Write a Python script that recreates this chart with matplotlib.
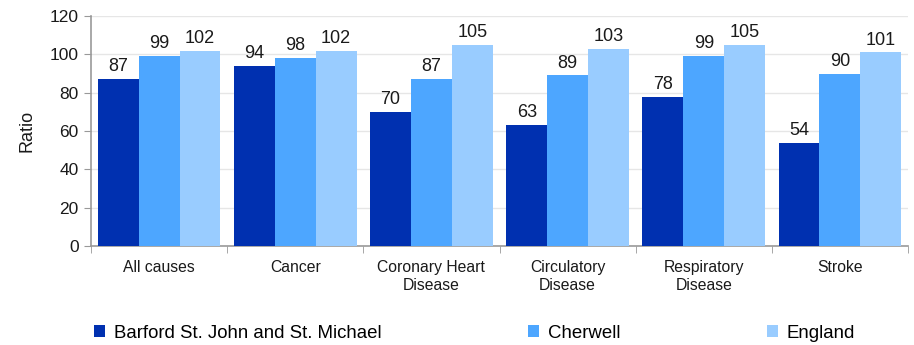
import numpy as np
import matplotlib
matplotlib.use('Agg')
import matplotlib.pyplot as plt

plt.rcParams['font.family'] = ['Liberation Sans', 'DejaVu Sans']

categories = ['All causes', 'Cancer', 'Coronary Heart\nDisease', 'Circulatory\nDisease',
              'Respiratory\nDisease', 'Stroke']
series_names = ['Barford St. John and St. Michael', 'Cherwell', 'England']
barford = [87, 94, 70, 63, 78, 54]
cherwell = [99, 98, 87, 89, 99, 90]
england = [102, 102, 105, 103, 105, 101]
colors = ['#0030B0', '#4DA6FF', '#99CCFF']

fig = plt.figure(figsize=(9.14, 3.45), dpi=100)
# axes box: left spine at x~91px, bottom at y~246px, top at y~16px
ax = fig.add_axes([91 / 914, 1 - 246 / 345, 817 / 914, 230 / 345])

x = np.arange(len(categories))
w = 0.3
for i, (vals, name, c) in enumerate(zip([barford, cherwell, england], series_names, colors)):
    bars = ax.bar(x + (i - 1) * w, vals, width=w, color=c, label=name, zorder=3)
    for b, v in zip(bars, vals):
        ax.text(b.get_x() + b.get_width() / 2, v + 2, str(v), ha='center', va='bottom',
                fontsize=13, color='#1a1a1a', zorder=4)

ax.set_xlim(-0.5, len(categories) - 0.5)
ax.set_ylim(0, 120)
ax.set_yticks(range(0, 121, 20))
ax.tick_params(axis='y', labelsize=12.5, length=5, color='#999999', pad=4, labelcolor='#1a1a1a')
ax.set_xticks(x)
ax.set_xticklabels(categories, fontsize=11.3, color='#1a1a1a', linespacing=1.25)
ax.tick_params(axis='x', length=0, pad=10)
ax.set_xticks(np.arange(-0.5, len(categories), 1), minor=True)
ax.tick_params(axis='x', which='minor', length=5, color='#999999')
ax.yaxis.grid(True, color='#e6e6e6', linewidth=1, zorder=0)
ax.set_ylabel('Ratio', fontsize=13, labelpad=10, color='#1a1a1a')

for s in ['top', 'right']:
    ax.spines[s].set_visible(False)
for s in ['left', 'bottom']:
    ax.spines[s].set_color('#999999')
    ax.spines[s].set_linewidth(1.2)

fig.legend(loc='center left', bbox_to_anchor=(94 / 914, 1 - 333 / 345), ncol=3, frameon=False,
           fontsize=13.4, handlelength=0.6, handleheight=0.6, handletextpad=0.45,
           columnspacing=7.9, borderpad=0, borderaxespad=0)

fig.savefig('out.png', dpi=100)
